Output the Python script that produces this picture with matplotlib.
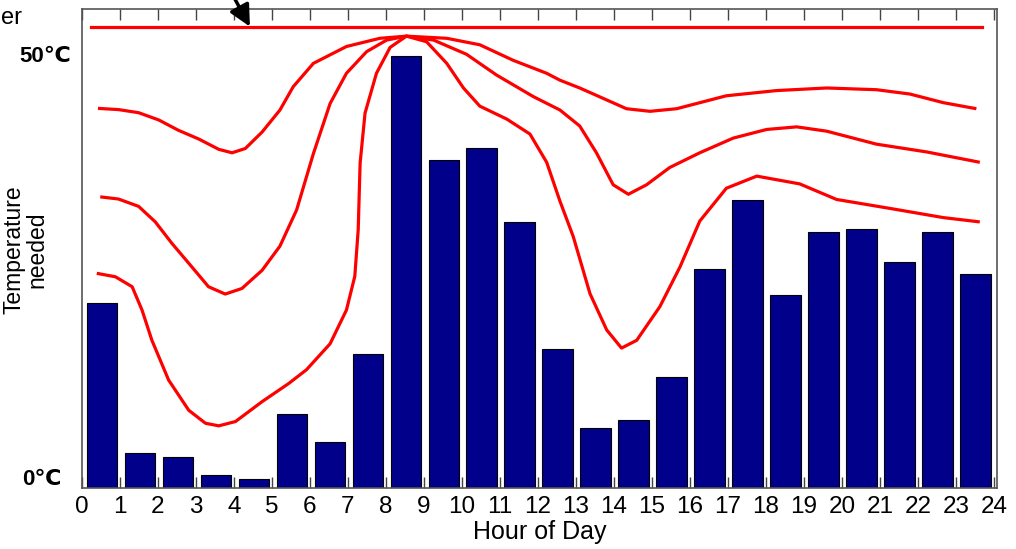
import numpy as np
import matplotlib.pyplot as plt

plt.rcParams['font.family'] = ['Liberation Sans', 'DejaVu Sans']

# hourly demand bars (degrees C)
hours = np.arange(24)
bar_temp = [21.4, 4.1, 3.6, 1.5, 1.0, 8.6, 5.3, 15.5, 50.0, 38.0, 39.3, 30.8,
            16.1, 7.0, 7.9, 12.9, 25.3, 33.3, 22.4, 29.6, 30.0, 26.2, 29.6, 24.8]

# red curves, (hour, temperature)
upper_x = [0.42, 0.96, 1.49, 2.02, 2.54, 3.07, 3.60, 3.95, 4.30, 4.74, 5.21, 5.56,
           6.09, 6.96, 7.84, 8.54, 9.60, 10.47, 11.35, 12.23, 12.58, 13.1, 13.46,
           14.33, 14.95, 15.65, 16.96, 18.28, 19.6, 20.91, 21.79, 22.67, 23.54]
upper_y = [43.94, 43.8, 43.44, 42.6, 41.4, 40.4, 39.2, 38.8, 39.3, 41.2, 43.75,
           46.45, 49.15, 51.1, 52.05, 52.3, 52.05, 51.3, 49.5, 48.0, 47.2, 46.3,
           45.6, 43.9, 43.6, 43.9, 45.4, 46.0, 46.3, 46.1, 45.6, 44.6, 43.9]

middle_x = [0.48, 0.96, 1.49, 1.93, 2.37, 2.89, 3.33, 3.77, 4.21, 4.74, 5.21, 5.65,
            6.09, 6.53, 6.96, 7.49, 8.02, 8.54, 9.25, 10.12, 10.91, 11.88, 12.58,
            13.1, 13.54, 13.98, 14.38, 14.86, 15.47, 16.26, 17.14, 18.02, 18.81,
            19.6, 20.91, 22.23, 23.63]
middle_y = [33.7, 33.45, 32.6, 30.8, 28.3, 25.6, 23.3, 22.45, 23.1, 25.2, 28.0, 32.2,
            38.7, 44.5, 48.0, 50.5, 51.85, 52.3, 51.85, 50.2, 47.8, 45.3, 43.75,
            41.9, 38.8, 35.1, 34.0, 35.1, 37.1, 38.8, 40.5, 41.5, 41.8, 41.3, 39.8,
            38.9, 37.7]

lower_x = [0.39, 0.88, 1.32, 1.58, 1.84, 2.28, 2.81, 3.25, 3.60, 4.04, 4.74, 5.44,
           5.91, 6.53, 6.96, 7.18, 7.27, 7.32, 7.45, 7.75, 8.11, 8.54, 9.07, 9.60,
           10.04, 10.47, 11.18, 11.79, 12.23, 12.58, 12.93, 13.37, 13.81, 14.2,
           14.6, 15.21, 15.74, 16.26, 16.96, 17.76, 18.89, 19.86, 21.35, 22.67,
           23.63]
lower_y = [24.85, 24.45, 23.3, 20.6, 17.1, 12.5, 9.0, 7.5, 7.2, 7.7, 10.0, 12.1,
           13.7, 16.7, 20.6, 24.5, 29.9, 37.6, 43.4, 48.0, 51.0, 52.3, 51.65, 49.15,
           46.3, 44.2, 42.7, 40.97, 37.7, 33.2, 29.1, 22.5, 18.3, 16.2, 17.1, 21.0,
           25.6, 30.9, 34.7, 36.1, 35.2, 33.4, 32.3, 31.3, 30.8]

max_line_x = [0.23, 23.7]
max_line_y = [53.4, 53.4]

fig = plt.figure(figsize=(10.16, 5.49), dpi=100)
ax = fig.add_axes([0.0807, 0.111, 0.9005, 0.8726])

ax.bar(hours + 0.52, bar_temp, width=0.8, color='#00008B', edgecolor='black',
       linewidth=0.8, zorder=2)
for cx, cy in [(upper_x, upper_y), (middle_x, middle_y), (lower_x, lower_y)]:
    ax.plot(cx, cy, color='#FF0000', lw=2.3, zorder=3, solid_joinstyle='round',
            solid_capstyle='butt')
ax.plot(max_line_x, max_line_y, color='#FF0000', lw=2.3, zorder=3)

ax.set_xlim(0, 24.08)
ax.set_ylim(0, 55.44)
ax.set_xticks(range(25))
ax.tick_params(axis='x', direction='in', length=8, width=1, color='#444444',
               top=True, labelsize=17.5, pad=6)
ax.set_yticks([])
for s in ax.spines.values():
    s.set_color('#555555')
    s.set_linewidth(1.2)

ax.set_xlabel('Hour of Day', fontsize=18, labelpad=1)
fig.text(0.025, 0.545, 'Temperature\nneeded', rotation=90, ha='center',
         va='center', fontsize=16.5, linespacing=0.95)
fig.text(0.070, 0.897, '50\u2103', ha='right', va='center', fontsize=16,
         fontweight='bold')
fig.text(0.061, 0.126, '0\u2103', ha='right', va='center', fontsize=16,
         fontweight='bold')
fig.text(0.001, 0.967, 'er', ha='left', va='center', fontsize=17)

ax.annotate('', xy=(4.42, 53.4), xytext=(3.85, 58.0), annotation_clip=False,
            arrowprops=dict(arrowstyle='-|>', mutation_scale=32, color='black',
                            lw=2.5, shrinkA=0, shrinkB=0))

fig.savefig('out.png', dpi=100)
